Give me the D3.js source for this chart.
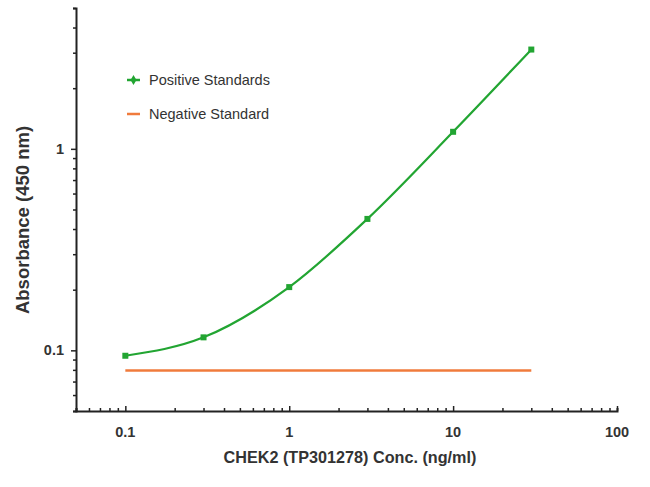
<!DOCTYPE html>
<html><head><meta charset="utf-8">
<script src="https://cdn.jsdelivr.net/npm/d3@7"></script>
<style>body{margin:0;background:#fff}svg{display:block}</style>
</head><body>
<script>
const concentrations = [0.1, 0.3, 1, 3, 10, 30];
const positiveValues = [0.094, 0.116, 0.206, 0.449, 1.215, 3.11];
const negativeX = [0.1, 30];
const negativeValues = [0.0795, 0.0795];
const xTickLabels = [0.1, 1, 10, 100];
const yTickLabels = [0.1, 1];
const seriesNames = ["Positive Standards", "Negative Standard"];

const W = 650, H = 487;
const green = "#22a532", orange = "#f07b3c", axisCol = "#222";
const svg = d3.select("body").append("svg").attr("width", W).attr("height", H);

const x = d3.scaleLog().domain([0.05, 100]).range([76, 617]);
const y = d3.scaleLog().domain([0.05, 5]).range([411, 8]);

// minor ticks
const xMinor = [];
[0.01, 0.1, 1, 10].forEach(d => { for (let k = 1; k <= 9; k++) { const v = d * k; if (v >= 0.05 && v <= 100) xMinor.push(v); } });
xMinor.push(100);
const yMinor = [];
[0.01, 0.1, 1].forEach(d => { for (let k = 1; k <= 9; k++) { const v = d * k; if (v >= 0.05 - 1e-9 && v <= 5 + 1e-9) yMinor.push(v); } });

const font = "'Liberation Sans', Arial, sans-serif";

// x axis
const gx = svg.append("g").attr("transform", "translate(0,411)");
gx.call(d3.axisBottom(x).tickValues(xMinor).tickSize(-3).tickFormat(""));
gx.select(".domain").attr("stroke", axisCol).attr("stroke-width", 2);
gx.selectAll(".tick line").attr("stroke", axisCol).attr("stroke-width", 1.5);
gx.selectAll(".tick").filter(d => xTickLabels.some(t => Math.abs(t - d) < 1e-9)).select("line").attr("y2", -5);
gx.selectAll(".lbl").data(xTickLabels).join("text")
  .attr("x", d => x(d)).attr("y", 26).attr("text-anchor", "middle")
  .attr("font-family", font).attr("font-size", 14.5).attr("font-weight", "bold").attr("fill", "#333")
  .text(d => d3.format("~g")(d));

// y axis
const gy = svg.append("g").attr("transform", "translate(76,0)");
gy.call(d3.axisLeft(y).tickValues(yMinor).tickSize(3).tickFormat(""));
gy.select(".domain").attr("stroke", axisCol).attr("stroke-width", 2);
gy.selectAll(".tick line").attr("stroke", axisCol).attr("stroke-width", 1.5);
gy.selectAll(".tick").filter(d => yTickLabels.some(t => Math.abs(t - d) < 1e-9)).select("line").attr("x2", -5);
gy.selectAll(".lbl").data(yTickLabels).join("text")
  .attr("x", -12).attr("y", d => y(d)).attr("dy", "0.35em").attr("text-anchor", "end")
  .attr("font-family", font).attr("font-size", 14.5).attr("font-weight", "bold").attr("fill", "#333")
  .text(d => d3.format("~g")(d));

// axis titles
svg.append("text").attr("x", 350).attr("y", 463).attr("text-anchor", "middle")
  .attr("font-family", font).attr("font-size", 16.2).attr("font-weight", "bold").attr("fill", "#333")
  .text("CHEK2 (TP301278) Conc. (ng/ml)");
svg.append("text").attr("transform", "translate(29,220) rotate(-90)").attr("text-anchor", "middle")
  .attr("font-family", font).attr("font-size", 18.5).attr("font-weight", "bold").attr("fill", "#333")
  .text("Absorbance (450 nm)");

// negative line
const negData = negativeX.map((c, i) => [c, negativeValues[i]]);
svg.append("path").datum(negData)
  .attr("d", d3.line().x(d => x(d[0])).y(d => y(d[1])))
  .attr("stroke", orange).attr("stroke-width", 2.5).attr("fill", "none");

// positive curve
const posData = concentrations.map((c, i) => [c, positiveValues[i]]);
svg.append("path").datum(posData)
  .attr("d", d3.line().x(d => x(d[0])).y(d => y(d[1])).curve(d3.curveMonotoneX))
  .attr("stroke", green).attr("stroke-width", 2.2).attr("fill", "none");
svg.selectAll(".pt").data(posData).join("rect")
  .attr("x", d => x(d[0]) - 3).attr("y", d => y(d[1]) - 3)
  .attr("width", 6).attr("height", 6).attr("fill", green);

// legend
const lg = svg.append("g");
lg.append("line").attr("x1", 127).attr("x2", 140).attr("y1", 80).attr("y2", 80).attr("stroke", green).attr("stroke-width", 2.5);
lg.append("path").attr("d", d3.symbol(d3.symbolDiamond, 30)()).attr("transform", "translate(133.5,80)").attr("fill", green);
lg.append("line").attr("x1", 127).attr("x2", 140).attr("y1", 114).attr("y2", 114).attr("stroke", orange).attr("stroke-width", 2.5);
lg.selectAll(".lt").data(seriesNames).join("text")
  .attr("x", 149).attr("y", (d, i) => 80 + i * 34).attr("dy", "0.35em")
  .attr("font-family", font).attr("font-size", 14.5).attr("fill", "#333")
  .text(d => d);
</script>
</body></html>
